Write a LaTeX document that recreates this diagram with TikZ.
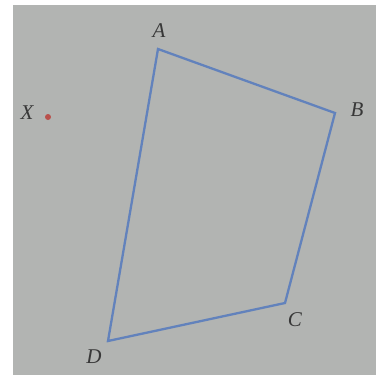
\documentclass[tikz,border=0pt]{standalone}
\usepackage{fontspec}
\setmainfont{Liberation Serif}
\begin{document}
\begin{tikzpicture}[x=1pt,y=-1pt,
  lbl/.style={font=\fontsize{21}{24}\selectfont\itshape, text=black!78},
  edge/.style={draw=quad, line width=2.3pt, line join=miter}]
\definecolor{paper}{RGB}{178,180,178}
\definecolor{quad}{RGB}{98,130,188}
\definecolor{dotc}{RGB}{185,80,75}
\useasboundingbox (0,0) rectangle (384,376);
\fill[white] (0,0) rectangle (384,376);
\fill[paper] (13,5) rectangle (376,375);
\coordinate (A) at (158,49);
\coordinate (B) at (335,113);
\coordinate (C) at (285,303);
\coordinate (D) at (108,341);
\draw[edge] (A) -- (B) -- (C) -- (D) -- cycle;
\node[circle, fill=dotc, inner sep=0pt, minimum size=6pt] (X) at (48,117) {};
\node[lbl] (lX) at (27,113) {X};
\node[lbl] (lA) at (159,31) {A};
\node[lbl] (lB) at (357,110) {B};
\node[lbl] (lC) at (295,320) {C};
\node[lbl] (lD) at (94,357) {D};
\end{tikzpicture}
\end{document}
